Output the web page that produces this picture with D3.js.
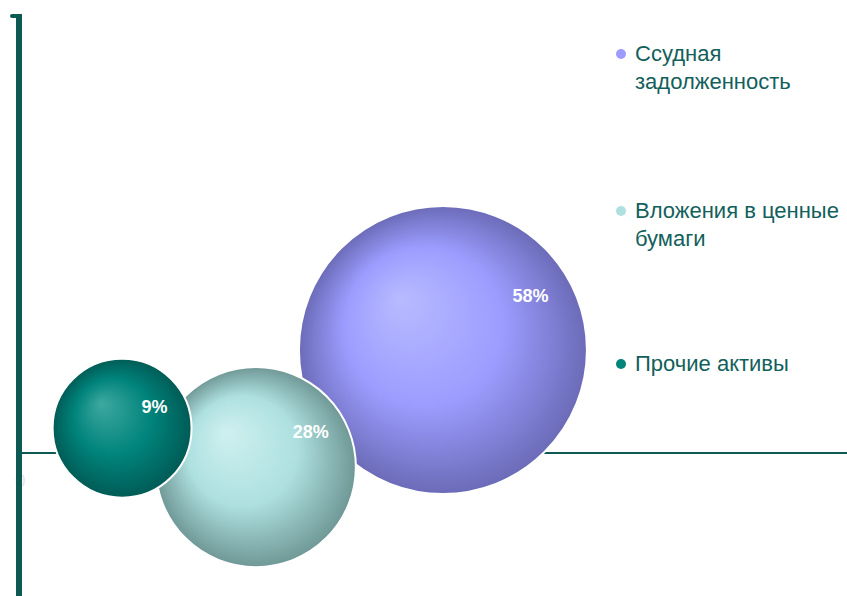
<!DOCTYPE html>
<html>
<head>
<meta charset="utf-8">
<script src="https://cdn.jsdelivr.net/npm/d3@7"></script>
<style>
  body { margin: 0; background: #fff; }
  svg { display: block; font-family: Arial, "Liberation Sans", sans-serif; }
</style>
</head>
<body>
<div id="chart"></div>
<script>
// data
const categories = ['Ссудная задолженность', 'Вложения в ценные бумаги', 'Прочие активы'];
const xValues = [10.24, 5.72, 2.49];
const yValues = [2.49, -0.34, 0.6];
const bubbleSize = [58, 28, 13.5];
const labels = ['58%', '28%', '9%'];
const legendLines = [['Ссудная', 'задолженность'], ['Вложения в ценные', 'бумаги'], ['Прочие активы']];

const W = 847, H = 596;
const axisColor = '#0d5954';

// gradient stops per series: highlight, mid, edge
const palettes = [
  ['#b8bbff', '#9c9cff', '#6b6bb8'],
  ['#cff0f0', '#aee0e0', '#6f9896'],
  ['#3ea8a0', '#00847b', '#005b56']
];

const svg = d3.select('#chart').append('svg')
  .attr('width', W)
  .attr('height', H);

const x = d3.scaleLinear().domain([0, 20]).range([19, 847]);
const y = d3.scaleLinear().domain([0, 10.58]).range([453, 15]);
const r = d3.scaleSqrt().domain([0, 58]).range([0, 144]);

const defs = svg.append('defs');
palettes.forEach((p, i) => {
  const g = defs.append('radialGradient')
    .attr('id', 'grad' + i)
    .attr('cx', '50%').attr('cy', '50%').attr('r', '50%')
    .attr('fx', '35%').attr('fy', '32%');
  g.append('stop').attr('offset', '0%').attr('stop-color', p[0]);
  g.append('stop').attr('offset', '55%').attr('stop-color', p[1]);
  g.append('stop').attr('offset', '100%').attr('stop-color', p[2]);
});

// "0" label hidden behind the y axis
svg.append('text')
  .attr('x', x(0) - 4)
  .attr('y', y(0) + 34)
  .attr('font-size', 19)
  .attr('fill', '#e6e6e6')
  .text('0');

// x axis
svg.append('line')
  .attr('x1', x(0) + 3).attr('x2', W)
  .attr('y1', y(0)).attr('y2', y(0))
  .attr('stroke', axisColor)
  .attr('stroke-width', 2);

const data = categories.map((c, i) => ({
  name: c, x: xValues[i], y: yValues[i], size: bubbleSize[i], label: labels[i], idx: i
}));

// biggest bubble in the back
const order = data.slice().sort((a, b) => b.size - a.size);

svg.selectAll('circle.bubble')
  .data(order)
  .enter().append('circle')
  .attr('class', 'bubble')
  .attr('cx', d => x(d.x))
  .attr('cy', d => y(d.y))
  .attr('r', d => r(d.size))
  .attr('fill', d => 'url(#grad' + d.idx + ')')
  .attr('stroke', '#fff')
  .attr('stroke-width', 2);

// labels sit up and right of the centre
svg.selectAll('text.lbl')
  .data(order)
  .enter().append('text')
  .attr('class', 'lbl')
  .attr('x', d => x(d.x) + r(d.size) * 0.74 - 19)
  .attr('y', d => y(d.y) - (r(d.size) * 0.44 - 8.5))
  .attr('dy', '0.36em')
  .attr('text-anchor', 'middle')
  .attr('font-size', 18)
  .attr('font-weight', 'bold')
  .attr('fill', '#fff')
  .text(d => d.label);

// y axis
svg.append('line')
  .attr('x1', x(0)).attr('x2', x(0))
  .attr('y1', 14).attr('y2', H)
  .attr('stroke', axisColor)
  .attr('stroke-width', 6);
svg.append('line')
  .attr('x1', 12).attr('x2', x(0))
  .attr('y1', 16).attr('y2', 16)
  .attr('stroke', axisColor)
  .attr('stroke-width', 4)
  .attr('stroke-linecap', 'round');

// legend
const legendY = [54, 211, 364];
const leg = svg.selectAll('g.leg')
  .data(data)
  .enter().append('g')
  .attr('class', 'leg')
  .attr('transform', (d, i) => 'translate(621,' + legendY[i] + ')');

leg.append('circle')
  .attr('r', 5)
  .attr('fill', d => palettes[d.idx][1]);

leg.append('text')
  .attr('x', 14)
  .attr('y', 7)
  .attr('font-size', 22)
  .attr('fill', '#12605b')
  .selectAll('tspan')
  .data(d => legendLines[d.idx])
  .enter().append('tspan')
  .attr('x', 14)
  .attr('dy', (t, j) => j === 0 ? 0 : 28)
  .text(t => t);
</script>
</body>
</html>
